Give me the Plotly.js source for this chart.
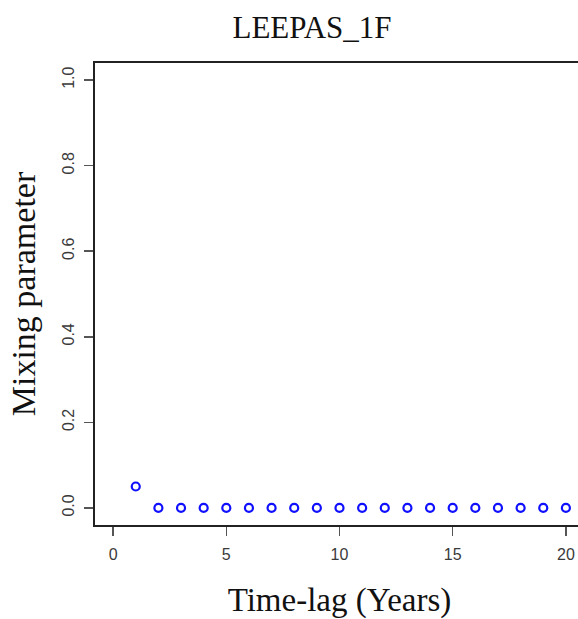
<!DOCTYPE html>
<html>
<head>
<meta charset="utf-8">
<script src="https://cdn.plot.ly/plotly-3.0.1.min.js"></script>
<style>
html, body { margin: 0; padding: 0; overflow: hidden; background: #fff; }
#chart { width: 600px; height: 619px; }
</style>
</head>
<body>
<div id="chart"></div>
<script>
// Data
const timeLag = [1, 2, 3, 4, 5, 6, 7, 8, 9, 10, 11, 12, 13, 14, 15, 16, 17, 18, 19, 20];
const mixing  = [0.05, 0, 0, 0, 0, 0, 0, 0, 0, 0, 0, 0, 0, 0, 0, 0, 0, 0, 0, 0];
const xTicks = [0, 5, 10, 15, 20];
const yTicks = [0.0, 0.2, 0.4, 0.6, 0.8, 1.0];
const yTickText = ["0.0", "0.2", "0.4", "0.6", "0.8", "1.0"];

const serif = "'Liberation Serif', 'Times New Roman', serif";
const sans = "'Liberation Sans', Arial, sans-serif";

const trace = {
  x: timeLag,
  y: mixing,
  type: 'scatter',
  mode: 'markers',
  marker: { symbol: 'circle-open', size: 8, color: '#1010ff', line: { width: 2.2, color: '#1010ff' } },
  hoverinfo: 'x+y'
};

const layout = {
  width: 600,
  height: 619,
  margin: { l: 95, r: 16, t: 63, b: 94 },
  paper_bgcolor: '#ffffff',
  plot_bgcolor: '#ffffff',
  showlegend: false,
  title: {
    text: 'LEEPAS_1F',
    font: { family: serif, size: 31, color: '#111' },
    xref: 'container', x: 312 / 600, xanchor: 'center',
    yref: 'container', y: 1 - 27 / 619, yanchor: 'middle'
  },
  xaxis: {
    range: [-0.8, 20.8],
    tickvals: xTicks,
    ticktext: xTicks.map(String),
    showgrid: false, zeroline: false,
    showline: true, mirror: true, linecolor: '#222', linewidth: 2,
    ticks: 'outside', ticklen: 9, tickwidth: 1.5, tickcolor: '#555',
    ticklabelstandoff: 5,
    tickfont: { family: sans, size: 16, color: '#3a3a3a' },
    title: { text: 'Time-lag (Years)', font: { family: serif, size: 33, color: '#111' }, standoff: 26 }
  },
  yaxis: {
    range: [-0.04, 1.04],
    tickvals: yTicks,
    ticktext: yTickText,
    tickangle: -90,
    showgrid: false, zeroline: false,
    showline: true, mirror: true, linecolor: '#222', linewidth: 2,
    ticks: 'outside', ticklen: 9, tickwidth: 1.5, tickcolor: '#555',
    ticklabelstandoff: 4,
    tickfont: { family: sans, size: 16, color: '#3a3a3a' },
    title: { text: 'Mixing parameter', font: { family: serif, size: 34, color: '#111' }, standoff: 14 }
  }
};

Plotly.newPlot('chart', [trace], layout, { displayModeBar: false, staticPlot: true });
</script>
</body>
</html>
